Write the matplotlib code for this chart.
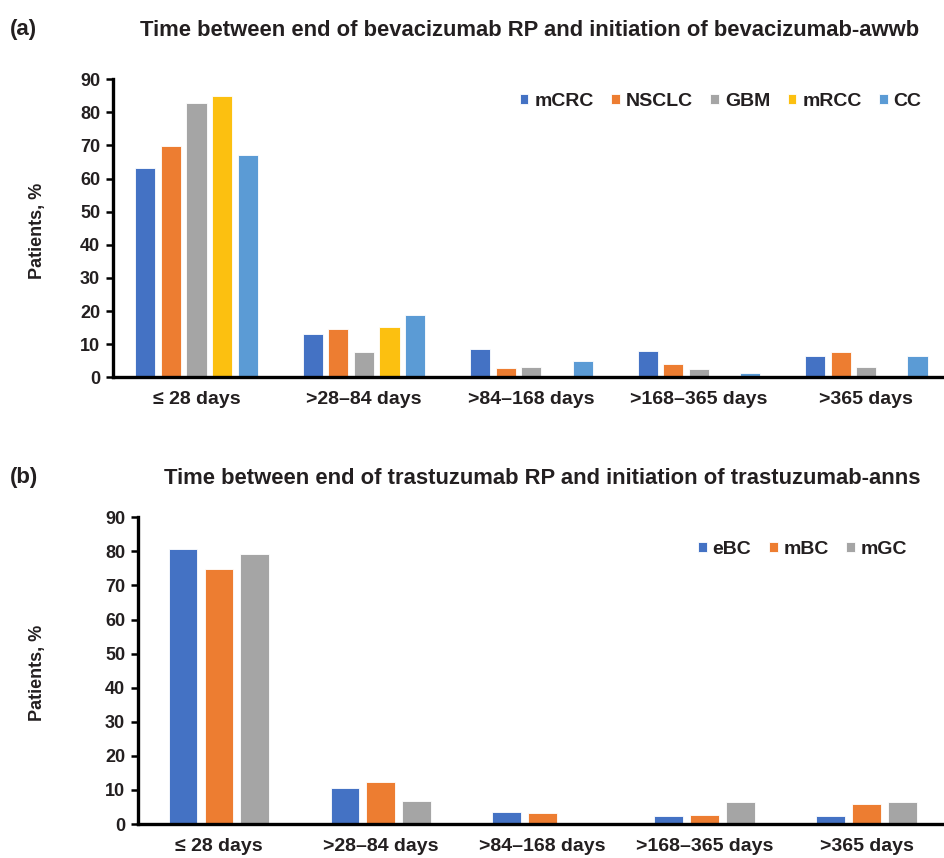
import matplotlib.pyplot as plt
import numpy as np

plt.rcParams['font.family'] = ['Liberation Sans', 'DejaVu Sans']
plt.rcParams['font.weight'] = 'bold'

# data
categories = ['\u2264 28 days', '>28\u201384 days', '>84\u2013168 days', '>168\u2013365 days', '>365 days']

bev_names = ['mCRC', 'NSCLC', 'GBM', 'mRCC', 'CC']
mCRC = [63.1, 13.0, 8.6, 7.8, 6.3]
NSCLC = [69.8, 14.7, 2.8, 3.9, 7.7]
GBM = [82.8, 7.7, 3.0, 2.4, 3.0]
mRCC = [84.8, 15.2, 0, 0, 0]
CC = [67.2, 18.7, 4.9, 1.3, 6.5]

tra_names = ['eBC', 'mBC', 'mGC']
eBC = [80.6, 10.6, 3.4, 2.3, 2.4]
mBC = [74.8, 12.3, 3.2, 2.7, 5.8]
mGC = [79.2, 6.7, 0, 6.6, 6.6]

bev_colors = ['#4472C4', '#ED7D31', '#A5A5A5', '#FCC010', '#5B9BD5']
tra_colors = ['#4472C4', '#ED7D31', '#A5A5A5']
txt = '#231F20'

fig = plt.figure(figsize=(9.45, 8.58), dpi=100)


def panel(ax, series, names, colors, width, step, legend_anchor):
    x = np.arange(len(categories))
    n = len(series)
    for k, (vals, name, c) in enumerate(zip(series, names, colors)):
        off = (k - (n - 1) / 2) * step
        ax.bar(x + off, vals, width, color=c, edgecolor='white', linewidth=0.6, label=name)
    ax.set_xlim(-0.5, 4.5)
    ax.set_ylim(0, 90)
    ax.set_yticks(range(0, 91, 10))
    ax.set_xticks(x)
    ax.set_xticklabels(categories, fontsize=14, fontweight='bold', color=txt)
    ax.tick_params(axis='x', length=0, pad=10)
    ax.tick_params(axis='y', length=5, width=1.8, labelsize=13, labelcolor=txt, pad=4)
    for lab in ax.get_yticklabels():
        lab.set_fontweight('bold')
    for s in ['top', 'right']:
        ax.spines[s].set_visible(False)
    ax.spines['left'].set_linewidth(2.4)
    ax.spines['bottom'].set_linewidth(2.4)
    ax.legend(loc='center right', bbox_to_anchor=legend_anchor, ncol=n, frameon=False,
              handlelength=0.45, handleheight=0.45, handletextpad=0.3,
              columnspacing=0.9, labelcolor=txt, prop={'weight': 'bold', 'size': 14})


ax1 = fig.add_axes([0.1193, 0.5603, 0.886, 0.3473])
panel(ax1, [mCRC, NSCLC, GBM, mRCC, CC], bev_names, bev_colors, 0.12, 0.153, (0.987, 0.925))

ax2 = fig.add_axes([0.1457, 0.0396, 0.857, 0.3575])
panel(ax2, [eBC, mBC, mGC], tra_names, tra_colors, 0.175, 0.222, (0.972, 0.895))

# y labels at the same x for both panels
fig.text(38 / 945, 1 - 231 / 858, 'Patients, %', rotation=90, fontsize=13, fontweight='bold',
         color=txt, ha='center', va='center')
fig.text(38 / 945, 1 - 673 / 858, 'Patients, %', rotation=90, fontsize=13, fontweight='bold',
         color=txt, ha='center', va='center')

fig.text(10 / 945, 1 - 30 / 858, '(a)', fontsize=16, fontweight='bold', color=txt, va='center')
fig.text(530 / 945, 1 - 30 / 858, 'Time between end of bevacizumab RP and initiation of bevacizumab-awwb',
         fontsize=15.8, fontweight='bold', color=txt, ha='center', va='center')
fig.text(10 / 945, 1 - 478 / 858, '(b)', fontsize=16, fontweight='bold', color=txt, va='center')
fig.text(542 / 945, 1 - 478 / 858, 'Time between end of trastuzumab RP and initiation of trastuzumab-anns',
         fontsize=15.8, fontweight='bold', color=txt, ha='center', va='center')

fig.savefig('out.png', dpi=100)
